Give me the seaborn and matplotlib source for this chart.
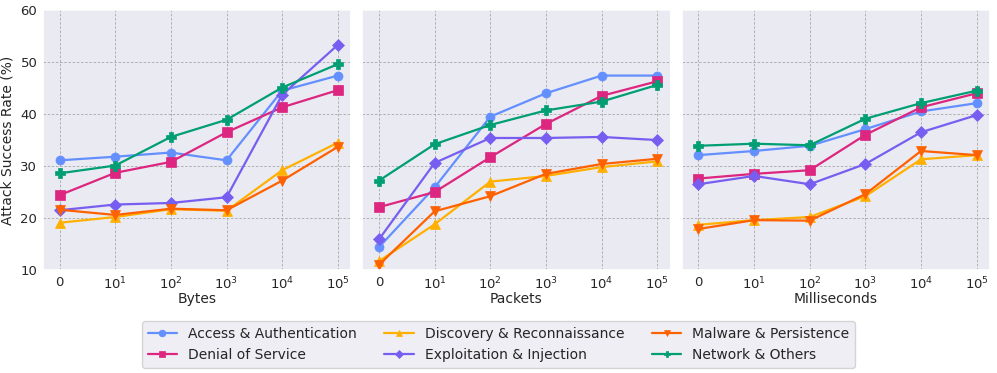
import numpy as np
import pandas as pd
import matplotlib
matplotlib.use("Agg")
import matplotlib.pyplot as plt
import seaborn as sns

panels = ["Bytes", "Packets", "Milliseconds"]
tick_labels = ["0", "$10^1$", "$10^2$", "$10^3$", "$10^4$", "$10^5$"]
categories = ["Access & Authentication", "Denial of Service",
              "Discovery & Reconnaissance", "Exploitation & Injection",
              "Malware & Persistence", "Network & Others"]

bytes_access = [31.1, 31.8, 32.6, 31.1, 44.5, 47.4]
bytes_dos = [24.4, 28.7, 30.8, 36.5, 41.3, 44.6]
bytes_disc = [19.1, 20.2, 21.7, 21.4, 29.2, 34.5]
bytes_expl = [21.5, 22.6, 22.9, 24.0, 43.7, 53.3]
bytes_malw = [21.6, 20.6, 21.8, 21.5, 27.2, 33.7]
bytes_net = [28.6, 30.1, 35.6, 38.9, 45.1, 49.6]

packets_access = [14.4, 25.9, 39.5, 44.0, 47.4, 47.4]
packets_dos = [22.1, 25.0, 31.7, 38.1, 43.5, 46.3]
packets_disc = [11.7, 18.8, 27.0, 28.1, 29.8, 30.9]
packets_expl = [15.9, 30.6, 35.4, 35.4, 35.6, 35.0]
packets_malw = [11.0, 21.3, 24.2, 28.5, 30.4, 31.4]
packets_net = [27.2, 34.2, 37.9, 40.7, 42.4, 45.6]

ms_access = [32.1, 32.9, 33.9, 37.1, 40.5, 42.1]
ms_dos = [27.6, 28.5, 29.2, 36.0, 41.3, 44.0]
ms_disc = [18.7, 19.6, 20.2, 24.2, 31.3, 32.1]
ms_expl = [26.5, 28.1, 26.5, 30.4, 36.5, 39.8]
ms_malw = [17.9, 19.6, 19.5, 24.6, 32.9, 32.1]
ms_net = [33.9, 34.3, 34.0, 39.1, 42.1, 44.5]

data = {
    "Bytes": [bytes_access, bytes_dos, bytes_disc, bytes_expl, bytes_malw, bytes_net],
    "Packets": [packets_access, packets_dos, packets_disc, packets_expl, packets_malw, packets_net],
    "Milliseconds": [ms_access, ms_dos, ms_disc, ms_expl, ms_malw, ms_net],
}

colors = ["#648FFF", "#DC267F", "#FFB000", "#785EF0", "#FE6100", "#009E73"]
markers = ["o", "s", "^", "D", "v", "P"]

sns.set_theme(style="darkgrid")
plt.rcParams["font.family"] = ["DejaVu Sans"]

fig, axes = plt.subplots(1, 3, figsize=(9.97, 3.73), dpi=100, sharey=True)
fig.subplots_adjust(left=0.043, right=0.993, top=0.973, bottom=0.276, wspace=0.036)

for ax, panel in zip(axes, panels):
    rows = []
    for cat, vals in zip(categories, data[panel]):
        for i, v in enumerate(vals):
            rows.append({"x": i, "y": v, "cat": cat})
    df = pd.DataFrame(rows)
    for cat, col, mk in zip(categories, colors, markers):
        sub = df[df["cat"] == cat]
        sns.lineplot(data=sub, x="x", y="y", ax=ax, color=col, marker=mk,
                     markersize=6.5 if mk != "D" else 6, linewidth=1.6,
                     markeredgewidth=0.5, markeredgecolor=col, label=cat,
                     legend=False)
    ax.set_xticks(range(6))
    ax.set_xticklabels(tick_labels, fontsize=9.5)
    ax.set_xlim(-0.3, 5.24)
    ax.set_ylim(10, 60)
    ax.set_yticks([10, 20, 30, 40, 50, 60])
    ax.tick_params(axis="both", length=0)
    ax.tick_params(axis="y", labelsize=9.5, pad=4)
    ax.tick_params(axis="x", pad=4)
    ax.set_xlabel(panel, fontsize=10, labelpad=0)
    ax.set_ylabel("")
    ax.grid(True, color="#a8a8a8", linestyle=(0, (3, 2)), linewidth=0.6)

axes[0].set_ylabel("Attack Success Rate (%)", fontsize=10, labelpad=4)

handles, labels = axes[0].get_legend_handles_labels()
leg = fig.legend(handles, labels, loc="lower center", ncol=3,
                 bbox_to_anchor=(0.5, -0.004), fontsize=10, frameon=True,
                 handlelength=2.1, columnspacing=2.0, markerscale=0.75,
                 handletextpad=0.8, borderpad=0.4, labelspacing=0.5)
leg.get_frame().set_facecolor("#EAEAF2")
leg.get_frame().set_edgecolor("#cccccc")

fig.savefig("out.png", dpi=100)
